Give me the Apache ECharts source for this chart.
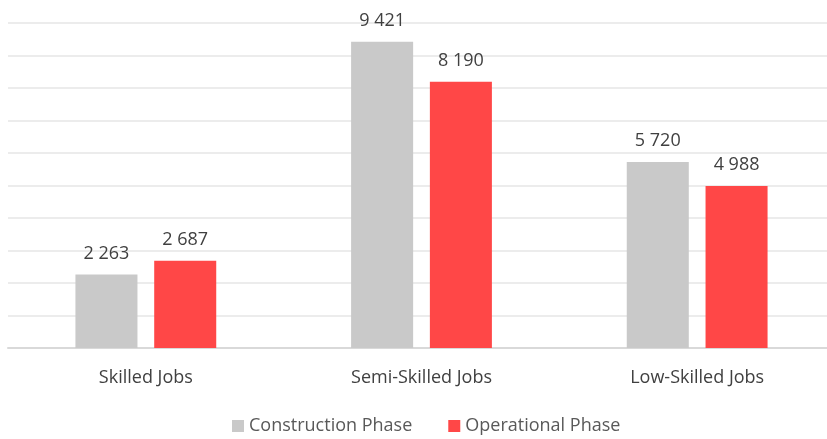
<!DOCTYPE html>
<html>
<head>
<meta charset="utf-8">
<script src="https://cdn.jsdelivr.net/npm/echarts@6/dist/echarts.min.js"></script>
<style>
  html, body { margin: 0; padding: 0; background: #fff; overflow: hidden; }
  #chart { width: 835px; height: 439px; }
</style>
</head>
<body>
<div id="chart"></div>
<script>
// categories and series values
var categories = ['Skilled Jobs', 'Semi-Skilled Jobs', 'Low-Skilled Jobs'];
var construction = [2263, 9421, 5720];
var operational = [2687, 8190, 4988];

// 1 234 -> "1 234"
function fmt(v) {
    return String(v).replace(/\B(?=(\d{3})+(?!\d))/g, ' ');
}

var myChart = echarts.init(document.getElementById('chart'));
var font = 'Open Sans';
var option = {
    animation: false,
    textStyle: { fontFamily: font },
    // plot area runs past the right edge of the window, as in the source
    grid: { left: 8, right: 0, top: 23, bottom: 91, containLabel: false },
    legend: {
        bottom: 4,
        left: 232,
        padding: 0,
        itemWidth: 12,
        itemHeight: 12,
        itemGap: 36,
        icon: 'rect',
        textStyle: { fontSize: 18, color: '#595959', fontFamily: font },
        data: ['Construction Phase', 'Operational Phase']
    },
    xAxis: {
        type: 'category',
        data: categories,
        axisTick: { show: false },
        axisLine: { lineStyle: { color: '#d9d9d9', width: 2 } },
        axisLabel: { fontSize: 18, color: '#404040', margin: 21, fontFamily: font }
    },
    yAxis: {
        type: 'value',
        min: 0,
        max: 10000,
        interval: 1000,
        axisLabel: { show: false },
        axisLine: { show: false },
        axisTick: { show: false },
        splitLine: { lineStyle: { color: '#e6e6e6', width: 1.5 } }
    },
    series: [{
        name: 'Construction Phase',
        type: 'bar',
        data: construction,
        barWidth: '22.5%',
        barGap: '27%',
        itemStyle: { color: '#c9c9c9' },
        label: {
            show: true,
            position: 'top',
            distance: 12,
            fontSize: 18,
            color: '#404040',
            fontFamily: font,
            formatter: function (p) { return fmt(p.value); }
        }
    }, {
        name: 'Operational Phase',
        type: 'bar',
        data: operational,
        barWidth: '22.5%',
        itemStyle: { color: '#ff4747' },
        label: {
            show: true,
            position: 'top',
            distance: 12,
            fontSize: 18,
            color: '#404040',
            fontFamily: font,
            formatter: function (p) { return fmt(p.value); }
        }
    }]
};
myChart.setOption(option);
</script>
</body>
</html>
